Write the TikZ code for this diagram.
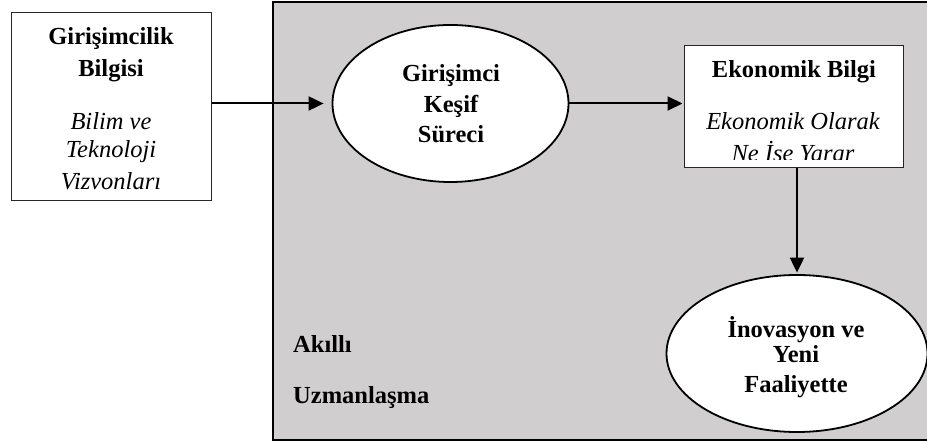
\documentclass[tikz,border=0pt]{standalone}
\usepackage{fontspec}
\setmainfont{Liberation Serif}
\usetikzlibrary{arrows.meta,shapes.geometric}
\definecolor{areagray}{RGB}{208,206,206}
\begin{document}
\begin{tikzpicture}[x=1pt,y=-1pt,
  txt/.style={anchor=base, inner sep=0pt, font=\fontsize{24.5}{30}\selectfont},
  bt/.style={txt, font=\fontsize{24.5}{30}\selectfont\bfseries},
  it/.style={txt, font=\fontsize{24.5}{30}\selectfont\itshape},
  boxnode/.style={draw=black!85, fill=white, line width=1.2pt, inner sep=0pt, anchor=north west},
  ellnode/.style={ellipse, draw, fill=white, line width=1.8pt, inner sep=0pt},
  arr/.style={line width=2pt, -{Triangle[length=15pt,width=14pt]}}]
\useasboundingbox (0,0) rectangle (927,443);
% grey area
\path[fill=areagray, draw=black, line width=2.3pt] (273,2) rectangle (945,440);
% left box
\node[boxnode, minimum width=200pt, minimum height=188pt] (bilgi) at (11,12) {};
\node[bt] (b1) at (111,45) {Girişimcilik};
\node[bt] (b2) at (111,77) {Bilgisi};
\node[it] (b3) at (111,130) {Bilim ve};
\node[it] (b4) at (111,158) {Teknoloji};
\node[it] (b5) at (111,190) {Vizvonları};
% discovery ellipse
\node[ellnode, minimum width=236pt, minimum height=157pt] (kesif) at (450.5,103.5) {};
\node[bt] (k1) at (451,82) {Girişimci};
\node[bt] (k2) at (451,113) {Keşif};
\node[bt] (k3) at (451,143) {Süreci};
% economic box
\node[boxnode, minimum width=219pt, minimum height=122pt] (eko) at (684,45) {};
\node[bt] (e1) at (794,78) {Ekonomik Bilgi};
\node[it] (e2) at (793,130) {Ekonomik Olarak};
\begin{scope}
\clip (684,140) rectangle (903,160);
\node[it] (e3) at (793,162) {Ne İşe Yarar};
\end{scope}
% innovation ellipse
\node[ellnode, minimum width=261pt, minimum height=157pt] (inov) at (797,353.5) {};
\node[bt] (i1) at (796,338) {İnovasyon ve};
\node[bt] (i2) at (796,363) {Yeni};
\node[bt] (i3) at (796,393) {Faaliyette};
% area label
\node[bt, anchor=base west] (a1) at (293,353) {Akıllı};
\node[bt, anchor=base west] (a2) at (293,404) {Uzmanlaşma};
% connectors
\draw[arr, shorten >=8pt] (bilgi.east |- kesif.west) -- (kesif.west);
\draw[arr, shorten >=1.5pt] (kesif.east) -- (eko.west |- kesif.east);
\draw[arr, shorten >=1.5pt] (eko.south -| inov.north) -- (inov.north);
\end{tikzpicture}
\end{document}
